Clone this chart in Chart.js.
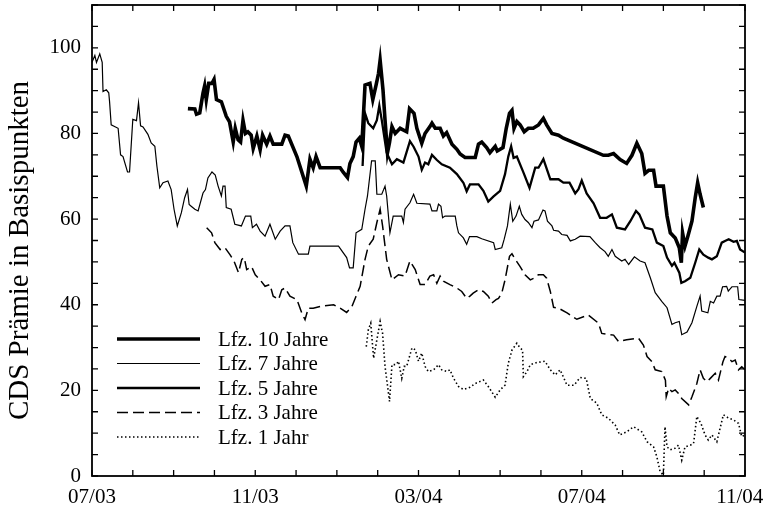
<!DOCTYPE html>
<html>
<head>
<meta charset="utf-8">
<script src="https://cdn.jsdelivr.net/npm/chart.js@4.4.0/dist/chart.umd.min.js"></script>
<style>
  html, body { margin: 0; padding: 0; background: #fff; }
  #wrap { width: 766px; height: 511px; position: relative; }
</style>
</head>
<body>
<div id="wrap"><canvas id="cds"></canvas></div>
<script>
/* ── AXES (x = months since 07/03) ── */
var xTickPos    = [0, 4, 8, 12, 16];
var xTickLabels = ['07/03', '11/03', '03/04', '07/04', '11/04'];
var yTickLabels = [0, 20, 40, 60, 80, 100];
var yTitle      = 'CDS Prämie in Basispunkten';
var seriesNames = ['Lfz. 10 Jahre', 'Lfz. 7 Jahre', 'Lfz. 5 Jahre', 'Lfz. 3 Jahre', 'Lfz. 1 Jahr'];

/* ── LFZ. 10 JAHRE ── */
var mon10 = [2.35,2.52,2.56,2.64,2.72,2.76,2.8,2.86,2.94,2.99,
             3.05,3.17,3.29,3.37,3.46,3.51,3.58,3.64,3.7,3.76,
             3.82,3.9,3.95,4.04,4.12,4.18,4.28,4.36,4.44,4.65,
             4.73,4.81,5.02,5.25,5.34,5.42,5.49,5.59,6.08,6.16,
             6.26,6.32,6.4,6.47,6.55,6.61,6.69,6.81,6.88,6.96,
             7.02,7.06,7.13,7.18,7.24,7.29,7.35,7.43,7.55,7.71,
             7.78,7.89,7.96,8.08,8.16,8.28,8.33,8.41,8.53,8.61,
             8.69,8.82,8.94,9.02,9.14,9.39,9.47,9.55,9.67,9.75,
             9.88,9.93,10.07,10.15,10.23,10.29,10.34,10.41,10.49,10.59,
             10.69,10.81,10.94,11.06,11.14,11.27,11.43,11.55,12.53,12.65,
             12.78,12.94,13.1,13.23,13.35,13.47,13.55,13.64,13.76,13.82,
             14.0,14.09,14.17,14.29,14.39,14.44,14.47,14.53,14.6,14.7,
             14.78,14.84,14.9,14.98];
var cds10 = [85.8,85.7,84.5,84.8,89.4,91.1,87.9,91.7,91.7,92.6,
             87.9,87.4,84,82.7,78,81.2,78.5,78,83.1,80,
             80.4,79.6,76.5,79.4,76.2,79.6,77.5,79.4,77.5,77.5,
             79.6,79.4,74.6,67.7,74,72,74.6,72,72,70.9,
             69.7,73,74.6,78,78.9,77,91.3,91.7,87.9,91.3,
             94,97.1,90.2,83.1,75.5,77.9,81.6,80,81.2,80.4,
             85.8,84.7,81.2,77.7,80,81.6,82.4,81.2,81.2,79.4,
             80.2,77.5,76.3,75.2,74.4,74.4,77.5,78,76.7,75.5,
             77,75.9,76.7,81.2,84.7,85.4,81.2,82.8,82,80.4,
             81.2,81.2,82,83.5,82,80,79.6,78.9,74.9,74.9,
             75.3,73.9,73,74.9,77.7,75.3,70.7,71.4,71.4,67.7,
             67.7,60.7,56.8,55.6,53.3,49.8,56.8,53.7,56,59.5,
             65,68.5,65.8,62.7];

/* ── LFZ. 7 JAHRE ── */
var mon7 = [0,0.07,0.11,0.19,0.25,0.27,0.35,0.41,0.43,0.47,
            0.64,0.7,0.76,0.87,0.92,1.0,1.09,1.14,1.19,1.25,
            1.37,1.45,1.54,1.59,1.66,1.74,1.86,1.94,2.01,2.09,
            2.19,2.27,2.34,2.38,2.43,2.52,2.6,2.72,2.78,2.84,
            2.94,3.02,3.09,3.17,3.21,3.26,3.29,3.41,3.5,3.66,
            3.76,3.89,3.93,4.03,4.12,4.24,4.36,4.49,4.61,4.73,
            4.85,4.92,5.06,5.3,5.34,6.04,6.24,6.31,6.4,6.47,
            6.61,6.69,6.75,6.85,6.94,6.98,7.1,7.18,7.22,7.3,
            7.38,7.59,7.63,7.67,7.79,7.88,7.96,8.28,8.33,8.45,
            8.49,8.55,8.59,8.65,8.9,8.94,8.98,9.1,9.18,9.25,
            9.43,9.55,9.84,9.88,10.04,10.1,10.18,10.25,10.31,10.39,
            10.47,10.53,10.61,10.69,10.78,10.83,10.94,11.05,11.1,11.16,
            11.27,11.31,11.43,11.51,11.64,11.72,11.84,11.96,12.2,12.33,
            12.45,12.57,12.65,12.74,12.82,12.98,13.06,13.15,13.29,13.43,
            13.55,13.68,13.8,13.96,14.09,14.21,14.29,14.39,14.45,14.58,
            14.7,14.82,14.9,14.94,15.09,15.15,15.23,15.31,15.39,15.45,
            15.55,15.59,15.68,15.82,15.85,16];
var cds7 = [96.6,98.2,96.6,98.6,96.6,89.8,90.2,89.5,87.5,82,
            81.2,75,74.6,71,71,83.3,83,87.2,81.8,81.5,
            79.8,77.8,77,72.4,67.3,68.5,68.9,66.9,62.3,58.4,
            61.5,65,66.9,63.4,63,62.3,61.9,66.1,66.9,69.6,
            71,70.3,67.7,65.4,67.7,67.7,62.7,62.3,58.8,58.4,
            60.7,60.7,58,58.8,57.2,56,58.8,55.3,57.2,58.4,
            58.4,54.5,51.8,51.8,53.7,53.7,51,48.6,48.6,56.8,
            57.6,62.3,65.4,73.6,73.6,65.8,65.8,67.7,65.4,56.8,
            60.7,60.7,59.2,62.3,63.8,65.8,63.7,63.5,61.9,61.9,
            63.5,63,60.3,60.7,60.7,58.4,56.8,55.6,54.1,55.9,
            55.9,55.4,54.5,52.9,53.3,55.3,58.4,63.5,59.5,60.7,
            63,61.1,59.9,59.2,58,59.5,59.8,62.1,61.9,59.5,
            58.4,57.4,57.2,56.4,56.2,54.9,55.3,56,55.9,54.5,
            53.3,52.4,51.3,52.9,51.3,50.2,50.6,49.4,51.2,50.2,
            49.8,46.3,42.8,40.8,39.3,35.4,35.8,36.1,33,33.6,
            35.8,39.6,42,38.5,38.1,40.8,40.4,42,42,44.2,
            44.3,43.2,44.2,44.2,41.2,41];

/* ── LFZ. 5 JAHRE ── */
var mon5 = [6.63,6.69,6.77,6.89,6.98,7.04,7.1,7.22,7.35,7.47,
            7.63,7.79,7.88,8.0,8.08,8.16,8.24,8.33,8.45,8.57,
            8.77,8.94,9.1,9.18,9.26,9.47,9.59,9.71,9.84,10.0,
            10.12,10.2,10.27,10.33,10.41,10.57,10.72,10.86,10.94,11.06,
            11.23,11.43,11.55,11.7,11.84,11.92,12.0,12.12,12.29,12.45,
            12.61,12.74,12.86,13.06,13.19,13.33,13.41,13.55,13.73,13.84,
            14.0,14.09,14.21,14.27,14.39,14.44,14.53,14.66,14.78,14.88,
            14.98,15.1,15.19,15.31,15.43,15.51,15.6,15.72,15.8,15.88,
            16];
var cds5 = [72.4,84.7,82.4,81.2,83.1,86.5,83.1,75.5,72.8,74,
            73.2,78.2,76.9,74.6,71.5,73.2,72.8,75,73.8,72.8,
            72,70.5,68.5,66.5,68.1,68.1,66.6,64.1,65.3,66.6,
            70.5,74.6,77,74.3,74.6,70.9,67.3,72,72,74,
            69.3,69.3,68.5,68.5,66,67,69,66,63.7,60.3,
            60.3,61.1,58,57.6,59.5,61.9,61.1,58,57.6,54.5,
            53.7,51,49.1,49.8,47.5,45.1,45.5,46.3,49.8,52.9,
            51.7,51,50.6,51.3,54.5,54.9,55.3,54.7,54.9,52.9,
            52.2];

/* ── LFZ. 3 JAHRE ── */
var mon3 = [2.81,2.93,3.01,3.14,3.26,3.38,3.48,3.59,3.67,3.73,
            3.79,3.91,4.0,4.12,4.24,4.36,4.44,4.57,4.65,4.73,
            4.85,5.02,5.14,5.22,5.3,5.42,5.59,5.92,6.08,6.24,
            6.37,6.47,6.57,6.69,6.77,6.89,6.98,7.06,7.12,7.22,
            7.35,7.51,7.67,7.79,7.92,8.04,8.16,8.28,8.37,8.45,
            8.53,8.61,8.77,8.94,9.06,9.18,9.26,9.34,9.47,9.59,
            9.71,9.8,9.9,9.96,10.04,10.12,10.23,10.29,10.37,10.49,
            10.61,10.74,10.83,10.94,11.06,11.14,11.23,11.31,11.43,11.64,
            11.88,12.16,12.41,12.49,12.78,12.9,13.1,13.39,13.51,13.6,
            13.72,13.8,13.96,14.05,14.07,14.13,14.21,14.29,14.37,14.45,
            14.62,14.7,14.82,14.9,14.98,15.07,15.15,15.27,15.35,15.46,
            15.51,15.6,15.68,15.76,15.84,15.92,16];
var cds3 = [58,56.8,54.5,52.9,53.3,51.7,50.2,47.5,50.6,51,
            48.2,48.9,47,45.8,44.3,44.7,42,41.2,43.5,43.9,
            42,41.2,38.1,36.5,39.2,39.2,39.6,40,39.2,38.2,
            39.6,42,44.3,50.6,53.7,55.3,59.2,62.3,58.4,50.6,
            45.8,47,46.7,50.2,48.2,44.7,44.7,46.7,47,45,
            46.7,45.5,44.7,43.9,43.1,41.5,42,42.7,43.5,43.1,
            42,40.4,41.2,41.5,42.7,45.8,51.3,51.9,50.6,48.9,
            47,45.8,46.2,47,47,46.2,43.1,39.4,39.2,38.1,
            36.6,37.6,35.7,33.3,32.9,31.4,31.8,32.2,30.6,27.9,
            26.7,24.8,24.4,22.4,18.5,20.5,19.7,20.1,19.3,18.1,
            16.6,18.5,21.6,24.8,22.8,22,22.8,24,22.4,26.7,
            27.9,27.5,26.7,27.1,24.8,25.5,24.8];

/* ── LFZ. 1 JAHR ── */
var mon1 = [6.72,6.77,6.83,6.9,6.98,7.06,7.12,7.18,7.29,7.35,
            7.45,7.51,7.59,7.65,7.71,7.84,7.92,8.0,8.08,8.16,
            8.24,8.37,8.49,8.57,8.69,8.77,8.86,8.98,9.1,9.26,
            9.39,9.59,9.71,9.88,10.0,10.12,10.2,10.29,10.41,10.49,
            10.55,10.57,10.66,10.74,10.9,11.1,11.23,11.35,11.47,11.64,
            11.81,11.96,12.11,12.21,12.37,12.49,12.65,12.82,12.93,13.1,
            13.27,13.47,13.6,13.76,13.84,13.92,14.0,14.04,14.09,14.17,
            14.29,14.37,14.45,14.53,14.66,14.74,14.82,14.92,15.02,15.1,
            15.19,15.31,15.47,15.6,15.72,15.84,15.92,16];
var cds1 = [30.2,34.1,35.7,27.5,31.8,36.1,33.3,25.6,17.4,26,
            26,26.8,22.8,25.6,25.6,29.9,29.5,26.8,28.7,25.6,
            24.4,24.8,26,24.8,24.4,24.8,22.8,20.9,20.2,20.7,
            21.6,22.4,20.9,18.4,20.1,21.2,26.3,29.4,31,29.9,
            29.4,23.2,24.4,26,26.5,26.8,24.8,23.6,24.8,21.2,
            21.2,23,22.8,18.1,17,14.3,13.5,11.9,9.6,10.3,
            11.5,10.3,8,6.8,4.5,1,0.2,11.5,6.8,6.1,
            6.5,7.2,3.7,6.8,7.2,7.6,13.9,12.3,9.6,8.4,
            9.6,8,14.3,13.5,13.1,12.3,9.2,9.6];

var FONT = "'Liberation Serif', 'DejaVu Serif', serif";

function toPoints(mon, val) {
  var pts = [];
  for (var i = 0; i < mon.length; i++) pts.push({ x: mon[i], y: val[i] });
  return pts;
}

function lineSet(label, mon, val, width, dash) {
  return {
    label: label,
    data: toPoints(mon, val),
    borderColor: '#000',
    backgroundColor: '#000',
    borderWidth: width,
    borderDash: dash,
    pointRadius: 0,
    tension: 0,
    fill: false
  };
}

/* ── FRAME, INWARD TICKS, AXIS TITLE, LEGEND ── */
var framePlugin = {
  id: 'frame',
  afterDraw: function(chart) {
    var ctx = chart.ctx, a = chart.chartArea;
    var xs = chart.scales.x, ys = chart.scales.y;
    ctx.save();
    ctx.strokeStyle = '#000';
    ctx.lineWidth = 1.8;
    ctx.strokeRect(a.left, a.top, a.right - a.left, a.bottom - a.top);

    ctx.lineWidth = 1.3;
    ctx.beginPath();
    for (var m = xs.min; m <= xs.max; m++) {
      var px = xs.getPixelForValue(m);
      ctx.moveTo(px, a.bottom); ctx.lineTo(px, a.bottom - 6);
      ctx.moveTo(px, a.top);    ctx.lineTo(px, a.top + 6);
    }
    for (var v = ys.min; v <= ys.max; v += 5) {
      var py = ys.getPixelForValue(v);
      ctx.moveTo(a.left, py);  ctx.lineTo(a.left + 6, py);
      ctx.moveTo(a.right, py); ctx.lineTo(a.right - 6, py);
    }
    ctx.stroke();

    // y title, rotated; sits a bit below the middle of the plot, as printed
    ctx.fillStyle = '#000';
    ctx.save();
    ctx.translate(20, (a.top + a.bottom) / 2 + 10);
    ctx.rotate(-Math.PI / 2);
    ctx.font = '29px ' + FONT;
    ctx.textAlign = 'center';
    ctx.textBaseline = 'middle';
    ctx.fillText(yTitle, 0, 0);
    ctx.restore();

    // legend, lower left inside the plot
    var sets = chart.data.datasets;
    var x0 = a.left + 25, x1 = a.left + 108, tx = a.left + 126;
    ctx.font = '21px ' + FONT;
    ctx.textBaseline = 'middle';
    for (var i = 0; i < sets.length; i++) {
      var y = a.top + 334 + i * 24.5;
      ctx.lineWidth = sets[i].borderWidth;
      ctx.setLineDash(sets[i].borderDash || []);
      ctx.beginPath();
      ctx.moveTo(x0, y); ctx.lineTo(x1, y);
      ctx.stroke();
      ctx.setLineDash([]);
      ctx.fillText(sets[i].label, tx, y + 1);
    }
    ctx.restore();
  }
};

new Chart(document.getElementById('cds'), {
  type: 'line',
  data: {
    datasets: [
      lineSet(seriesNames[0], mon10, cds10, 3.6, []),
      lineSet(seriesNames[1], mon7,  cds7,  1.2, []),
      lineSet(seriesNames[2], mon5,  cds5,  2.3, []),
      lineSet(seriesNames[3], mon3,  cds3,  1.5, [11, 5]),
      lineSet(seriesNames[4], mon1,  cds1,  1.6, [1.5, 2.5])
    ]
  },
  options: {
    responsive: true,
    maintainAspectRatio: false,
    animation: false,
    events: [],
    layout: { padding: { left: 0, top: 5, right: 21, bottom: 0 } },
    plugins: { legend: { display: false }, tooltip: { enabled: false } },
    scales: {
      x: {
        type: 'linear',
        min: 0, max: 16,
        grid: { display: false, drawTicks: false },
        border: { display: false },
        ticks: {
          stepSize: 4,
          padding: 9,
          maxRotation: 0,
          color: '#000',
          font: { family: FONT, size: 21 },
          callback: function(v) {
            var k = xTickPos.indexOf(v);
            if (k < 0) return '';
            // last label sits a little left of its tick, as in the print
            return k === xTickPos.length - 1 ? xTickLabels[k] + '\u2002' : xTickLabels[k];
          }
        },
        afterFit: function(s) { s.height = 35; s.paddingLeft = 0; s.paddingRight = 0; }
      },
      y: {
        min: 0, max: 110,
        grid: { display: false, drawTicks: false },
        border: { display: false },
        ticks: {
          stepSize: 20,
          includeBounds: false,
          padding: 11,
          color: '#000',
          font: { family: FONT, size: 21 },
          callback: function(v) { return yTickLabels.indexOf(v) < 0 ? '' : String(v); }
        },
        afterFit: function(s) { s.width = 92; s.paddingTop = 0; s.paddingBottom = 0; }
      }
    }
  },
  plugins: [framePlugin]
});
</script>
</body>
</html>
